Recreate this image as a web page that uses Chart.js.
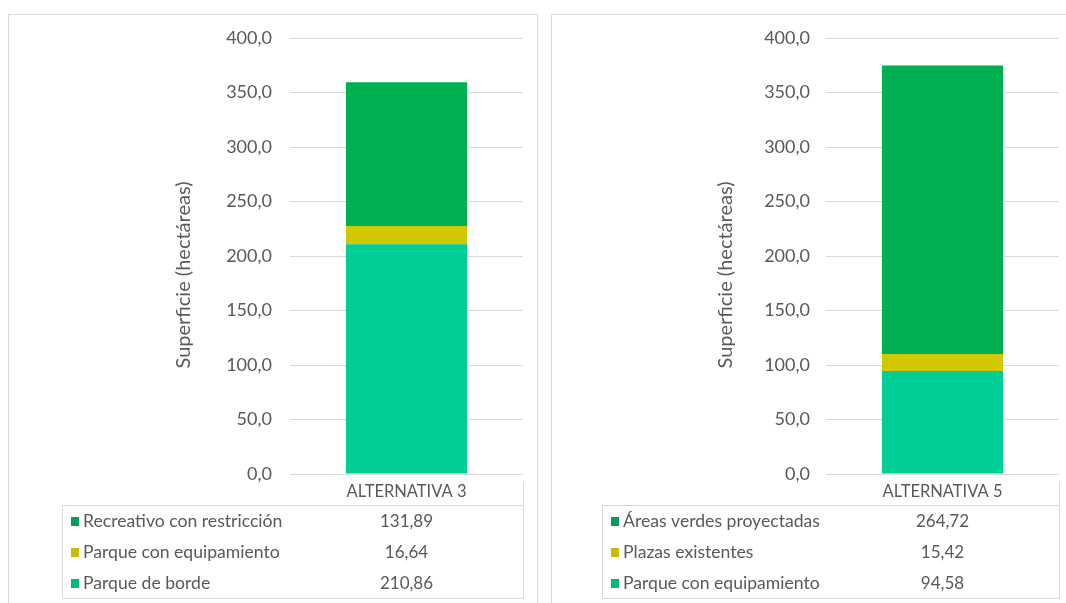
<!DOCTYPE html>
<html>
<head>
<meta charset="utf-8">
<title>Superficie de áreas verdes por alternativa</title>
<script src="https://cdn.jsdelivr.net/npm/chart.js@4/dist/chart.umd.min.js"></script>
<style>
  html, body { margin: 0; padding: 0; background: #ffffff; width: 1066px; height: 603px; overflow: hidden; }
  .panel { position: absolute; border: 1px solid #d9d9d9; background: #ffffff; }
  #panelA { left: 8px; top: 14px; }
  #panelB { left: 551px; top: 14px; }
  canvas { display: block; }
</style>
</head>
<body>
<div class="panel" id="panelA"><canvas id="chartA" width="528" height="590"></canvas></div>
<div class="panel" id="panelB"><canvas id="chartB" width="528" height="590"></canvas></div>

<script>
// ---- data ----
const categoriesA = ['ALTERNATIVA 3'];
const seriesA = ['Parque de borde', 'Parque con equipamiento', 'Recreativo con restricción'];
const valuesA = [210.86, 16.64, 131.89];

const categoriesB = ['ALTERNATIVA 5'];
const seriesB = ['Parque con equipamiento', 'Plazas existentes', 'Áreas verdes proyectadas'];
const valuesB = [94.58, 15.42, 264.72];

const axisTitle = 'Superficie (hectáreas)';
const yTicks = [0, 50, 100, 150, 200, 250, 300, 350, 400];

// ---- styling ----
const seriesColors = ['#00CC96', '#D2C800', '#00B050'];
const keyColors = ['#00B880', '#C8BE00', '#0A9A58'];
const textColor = '#595959';
const lineColor = '#d9d9d9';
const fontFamily = 'Lato, "Open Sans", "DejaVu Sans", sans-serif';

const fmt = (v, d) => v.toFixed(d).replace('.', ',');

// Draws the data table (legend keys + values) under the category axis,
// plus the rotated value-axis title.
const dataTablePlugin = {
  id: 'dataTable',
  afterDraw(chart, args, opts) {
    const { ctx, chartArea: a, scales: { x } } = chart;
    const ds = chart.data.datasets;
    const top = a.bottom + opts.headerH;
    const bottom = top + opts.rowH * ds.length;
    const L = opts.left + 0.5;
    const R = Math.round(a.right) + 0.5;

    ctx.save();
    ctx.strokeStyle = lineColor;
    ctx.lineWidth = 1;
    ctx.beginPath();
    ctx.moveTo(R, a.bottom + 8); ctx.lineTo(R, bottom + 0.5);
    ctx.moveTo(L, top + 0.5); ctx.lineTo(R, top + 0.5);
    ctx.moveTo(L, top); ctx.lineTo(L, bottom + 0.5);
    ctx.moveTo(L, bottom + 0.5); ctx.lineTo(R, bottom + 0.5);
    ctx.stroke();

    ctx.textBaseline = 'middle';
    const cx = x.getPixelForValue(0);
    for (let r = 0; r < ds.length; r++) {
      const d = ds[ds.length - 1 - r];
      const cy = top + opts.rowH * (r + 0.5);
      ctx.fillStyle = keyColors[ds.length - 1 - r];
      ctx.fillRect(opts.left + 9, Math.round(cy - 4), 8, 9);
      ctx.fillStyle = textColor;
      ctx.textAlign = 'left';
      ctx.font = '17.6px ' + fontFamily;
      ctx.fillText(d.label, opts.left + 21, cy + 1);
      ctx.textAlign = 'center';
      ctx.font = '17px ' + fontFamily;
      ctx.fillText(fmt(d.data[0], 2), cx, cy + 1);
    }

    // value-axis title
    ctx.translate(opts.titleX, (a.top + a.bottom) / 2 + opts.titleShift);
    ctx.rotate(-Math.PI / 2);
    ctx.textAlign = 'center';
    ctx.font = '20px ' + fontFamily;
    ctx.fillText(axisTitle, 0, 0);
    ctx.restore();
  }
};

function makeChart(id, categories, names, values, geo) {
  const datasets = names.map((n, i) => ({
    label: n,
    data: [values[i]],
    backgroundColor: seriesColors[i],
    borderWidth: 0,
    barPercentage: 0.52,
    categoryPercentage: 1
  }));
  return new Chart(document.getElementById(id), {
    type: 'bar',
    data: { labels: categories, datasets },
    plugins: [dataTablePlugin],
    options: {
      responsive: false,
      animation: false,
      layout: { padding: { left: geo.padLeft, right: geo.padRight, top: geo.padTop, bottom: 0 } },
      plugins: {
        legend: { display: false },
        tooltip: { enabled: false },
        dataTable: { left: geo.tableLeft, headerH: 31, rowH: 31, titleX: geo.titleX, titleShift: 19 }
      },
      scales: {
        x: {
          stacked: true,
          grid: { display: false, drawTicks: false },
          border: { display: false },
          ticks: { color: textColor, font: { family: fontFamily, size: 16.5 }, padding: 8 },
          afterFit(s) { s.height = geo.xHeight; }
        },
        y: {
          stacked: true,
          min: 0,
          max: 400,
          afterBuildTicks(s) { s.ticks = yTicks.map(v => ({ value: v })); },
          grid: { color: lineColor, drawTicks: false },
          border: { display: false },
          ticks: {
            color: textColor,
            font: { family: fontFamily, size: 18 },
            padding: geo.tickPad,
            callback: v => fmt(v, 1)
          },
          afterFit(s) {
            s.width = geo.yWidth;
            s.paddingTop = 0;
            s.paddingBottom = 0;
          }
        }
      }
    }
  });
}

makeChart('chartA', categoriesA, seriesA, valuesA, {
  padLeft: 160, yWidth: 121, padRight: 14, padTop: 23, xHeight: 131,
  tickPad: 18, tableLeft: 53, titleX: 175
});
makeChart('chartB', categoriesB, seriesB, valuesB, {
  padLeft: 160, yWidth: 114, padRight: 21, padTop: 23, xHeight: 131,
  tickPad: 16, tableLeft: 50, titleX: 174
});
</script>
</body>
</html>
